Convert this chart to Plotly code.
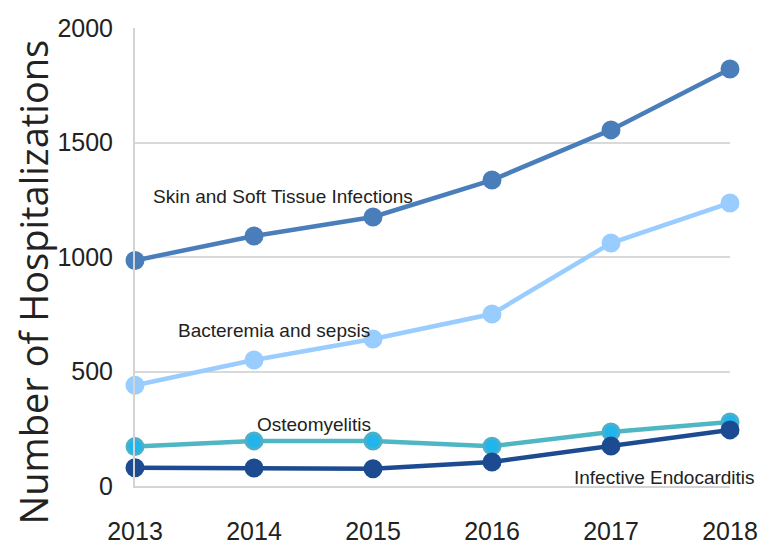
import plotly.graph_objects as go

years = [2013, 2014, 2015, 2016, 2017, 2018]
year_labels = ["2013", "2014", "2015", "2016", "2017", "2018"]
skin = [985, 1092, 1175, 1336, 1555, 1821]
bacteremia = [440, 550, 642, 751, 1061, 1236]
osteomyelitis = [172, 197, 196, 174, 236, 280]
endocarditis = [80, 79, 75, 105, 175, 245]
y_ticks = [0, 500, 1000, 1500, 2000]

series = [
    ("Skin and Soft Tissue Infections", skin, "#4a7ebb", "#4a7ebb", "#4a7ebb"),
    ("Bacteremia and sepsis", bacteremia, "#99ccff", "#99ccff", "#99ccff"),
    ("Osteomyelitis", osteomyelitis, "#4fb6c4", "#22b4ec", "#4bb0c8"),
    ("Infective Endocarditis", endocarditis, "#1c4b91", "#1c4b91", "#1c4b91"),
]

fig = go.Figure()
for name, vals, lc, mc, mlc in series:
    fig.add_trace(go.Scatter(
        x=years, y=vals, mode="lines+markers", name=name,
        line=dict(color=lc, width=4.5),
        marker=dict(size=16, color=mc, line=dict(color=mlc, width=3)),
        cliponaxis=False, showlegend=False,
    ))

label_font = dict(family="Liberation Sans, Arial, sans-serif", size=19, color="#222222")
labels = [
    ("Skin and Soft Tissue Infections", 2014.24, 1266, "center"),
    ("Bacteremia and sepsis", 2014.17, 681, "center"),
    ("Osteomyelitis", 2014.5, 268, "center"),
]
for text, lx, ly, anchor in labels:
    fig.add_annotation(x=lx, y=ly, xref="x", yref="y", text=text, showarrow=False,
                       font=label_font, xanchor=anchor, yanchor="middle")
# label placed beyond the right edge of the axis range -> paper x reference
fig.add_annotation(x=1.045, y=38, xref="paper", yref="y", text="Infective Endocarditis",
                   showarrow=False, font=label_font, xanchor="right", yanchor="middle")

# y axis title as a rotated annotation
fig.add_annotation(x=-0.171, y=0.445, xref="paper", yref="paper",
                   text="Number of Hospitalizations", textangle=-90, showarrow=False,
                   font=dict(family="Open Sans, sans-serif", size=38, color="#222222"),
                   xanchor="center", yanchor="middle")

tick_font = dict(family="Liberation Sans, Arial, sans-serif", size=25, color="#222222")

fig.update_layout(
    width=753, height=537,
    margin=dict(l=127, r=31, t=20, b=59, autoexpand=False),
    paper_bgcolor="white", plot_bgcolor="white",
    xaxis=dict(
        range=[2013, 2018], tickmode="array", tickvals=years, ticktext=year_labels,
        showgrid=False, zeroline=False, showline=True, linecolor="#d4d4d4", linewidth=2,
        ticks="", tickfont=tick_font, ticklabelstandoff=22, automargin=False,
    ),
    yaxis=dict(
        range=[0, 2000], tickmode="array", tickvals=y_ticks,
        showgrid=True, gridcolor="#d9d9d9", gridwidth=2, zeroline=False,
        showline=True, linecolor="#d4d4d4", linewidth=2,
        ticks="", tickfont=tick_font, ticklabelstandoff=15, automargin=False,
    ),
)

fig.write_html("out.html")
